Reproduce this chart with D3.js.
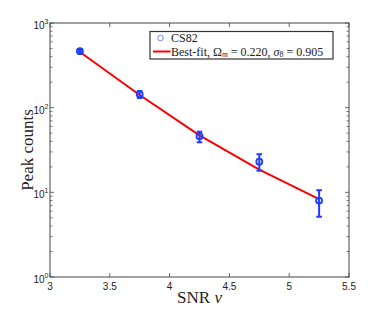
<!DOCTYPE html>
<meta charset="utf-8">
<script src="https://d3js.org/d3.v7.min.js"></script>
<style>
body { margin: 0; background: #fff; }
.tick-label { font-family: "Liberation Sans", Arial, sans-serif; font-size: 10px; fill: #222; }
.serif { font-family: "Liberation Serif", "Times New Roman", serif; fill: #222; }
</style>
<svg id="chart" width="374" height="315"></svg>
<script>
// CS82 peak counts vs SNR
var snr = [3.25, 3.75, 4.25, 4.75, 5.25];
var counts = [465, 144, 46, 23, 8.0];
var errLow = [450, 130, 39, 18, 5.15];
var errHigh = [480, 157, 52, 28.2, 10.6];
var fitCounts = [455, 141, 47, 18.5, 8.3];
var xTicks = [3, 3.5, 4, 4.5, 5, 5.5];
var yDecades = [1, 10, 100, 1000];

var margin = {top: 23, right: 25, bottom: 38, left: 50},
    width = 374 - margin.left - margin.right,
    height = 315 - margin.top - margin.bottom;

var svg = d3.select("#chart");
var g = svg.append("g").attr("transform", "translate(" + margin.left + "," + margin.top + ")");

var x = d3.scaleLinear().domain([3, 5.5]).range([0, width]);
var y = d3.scaleLog().domain([1, 1000]).range([height, 0]);

var axisColor = "#444";

// minor ticks for log axis
var minor = [];
yDecades.slice(0, 3).forEach(function(d) {
  for (var k = 2; k <= 9; k++) minor.push(d * k);
});

// left / right y ticks
[[0, 1], [width, -1]].forEach(function(side) {
  g.selectAll(null).data(yDecades).enter().append("line")
    .attr("x1", side[0]).attr("x2", side[0] + side[1] * 4)
    .attr("y1", function(d) { return y(d); }).attr("y2", function(d) { return y(d); })
    .attr("stroke", axisColor).attr("stroke-width", 0.8);
  g.selectAll(null).data(minor).enter().append("line")
    .attr("x1", side[0]).attr("x2", side[0] + side[1] * 2.5)
    .attr("y1", function(d) { return y(d); }).attr("y2", function(d) { return y(d); })
    .attr("stroke", axisColor).attr("stroke-width", 0.7);
});

// bottom / top x ticks
[[height, -1], [0, 1]].forEach(function(side) {
  g.selectAll(null).data(xTicks).enter().append("line")
    .attr("x1", function(d) { return x(d); }).attr("x2", function(d) { return x(d); })
    .attr("y1", side[0]).attr("y2", side[0] + side[1] * 4)
    .attr("stroke", axisColor).attr("stroke-width", 0.8);
});

// box
g.append("rect")
  .attr("width", width).attr("height", height)
  .attr("fill", "none").attr("stroke", axisColor).attr("stroke-width", 1);

// x tick labels
g.selectAll(null).data(xTicks).enter().append("text")
  .attr("class", "tick-label")
  .attr("x", function(d) { return x(d); })
  .attr("y", height + 13)
  .attr("text-anchor", "middle")
  .text(function(d) { return d; });

// y tick labels 10^n
var yl = g.selectAll(null).data(yDecades).enter().append("text")
  .attr("class", "tick-label")
  .attr("x", -1.5)
  .attr("y", function(d) { return y(d) + 6; })
  .attr("text-anchor", "end");
yl.append("tspan").text("10");
yl.append("tspan").attr("dy", -5).style("font-size", "7px")
  .text(function(d) { return Math.round(Math.log10(d)); });

// fit line
var line = d3.line()
  .x(function(d, i) { return x(snr[i]); })
  .y(function(d) { return y(d); });
g.append("path").datum(fitCounts)
  .attr("d", line)
  .attr("fill", "none").attr("stroke", "#ff0000").attr("stroke-width", 2);

// error bars
var blue = "#1f3cff";
var cap = 2.8;
snr.forEach(function(s, i) {
  var cx = x(s);
  g.append("line").attr("x1", cx).attr("x2", cx)
    .attr("y1", y(errLow[i])).attr("y2", y(errHigh[i]))
    .attr("stroke", blue).attr("stroke-width", 2);
  [errLow[i], errHigh[i]].forEach(function(v) {
    g.append("line").attr("x1", cx - cap).attr("x2", cx + cap)
      .attr("y1", y(v)).attr("y2", y(v))
      .attr("stroke", blue).attr("stroke-width", 2);
  });
});

// data markers
g.selectAll(null).data(counts).enter().append("circle")
  .attr("cx", function(d, i) { return x(snr[i]); })
  .attr("cy", function(d) { return y(d); })
  .attr("r", 3)
  .attr("fill", "none").attr("stroke", blue).attr("stroke-width", 1.8);

// legend
var lg = svg.append("g").attr("transform", "translate(150,31.5)");
lg.append("rect").attr("width", 183).attr("height", 27.5)
  .attr("fill", "#fff").attr("stroke", "#333").attr("stroke-width", 1.2);
lg.append("circle").attr("cx", 10.5).attr("cy", 6.5).attr("r", 2.8)
  .attr("fill", "none").attr("stroke", "#6b7bff").attr("stroke-width", 0.9);
lg.append("text").attr("class", "serif").attr("x", 21).attr("y", 10)
  .style("font-size", "12px").text("CS82");
lg.append("line").attr("x1", 3).attr("x2", 20.5).attr("y1", 20).attr("y2", 20)
  .attr("stroke", "#ff0000").attr("stroke-width", 2);
var lt = lg.append("text").attr("class", "serif").attr("x", 21).attr("y", 24)
  .style("font-size", "12px");
lt.append("tspan").text("Best-fit, Ω");
lt.append("tspan").attr("dy", 1.5).style("font-size", "8px").style("font-style", "italic").text("m");
lt.append("tspan").attr("dy", -1.5).text(" = 0.220, ");
lt.append("tspan").style("font-style", "italic").text("σ");
lt.append("tspan").attr("dy", 1.5).style("font-size", "8px").text("8");
lt.append("tspan").attr("dy", -1.5).text(" = 0.905");

// axis labels
svg.append("text").attr("class", "serif")
  .attr("x", margin.left + width / 2).attr("y", 303)
  .attr("text-anchor", "middle").style("font-size", "17px")
  .html('SNR <tspan font-style="italic">ν</tspan>');

svg.append("text").attr("class", "serif")
  .attr("transform", "translate(33," + (margin.top + height / 2) + ") rotate(-90)")
  .attr("text-anchor", "middle").style("font-size", "17px")
  .text("Peak counts");
</script>
